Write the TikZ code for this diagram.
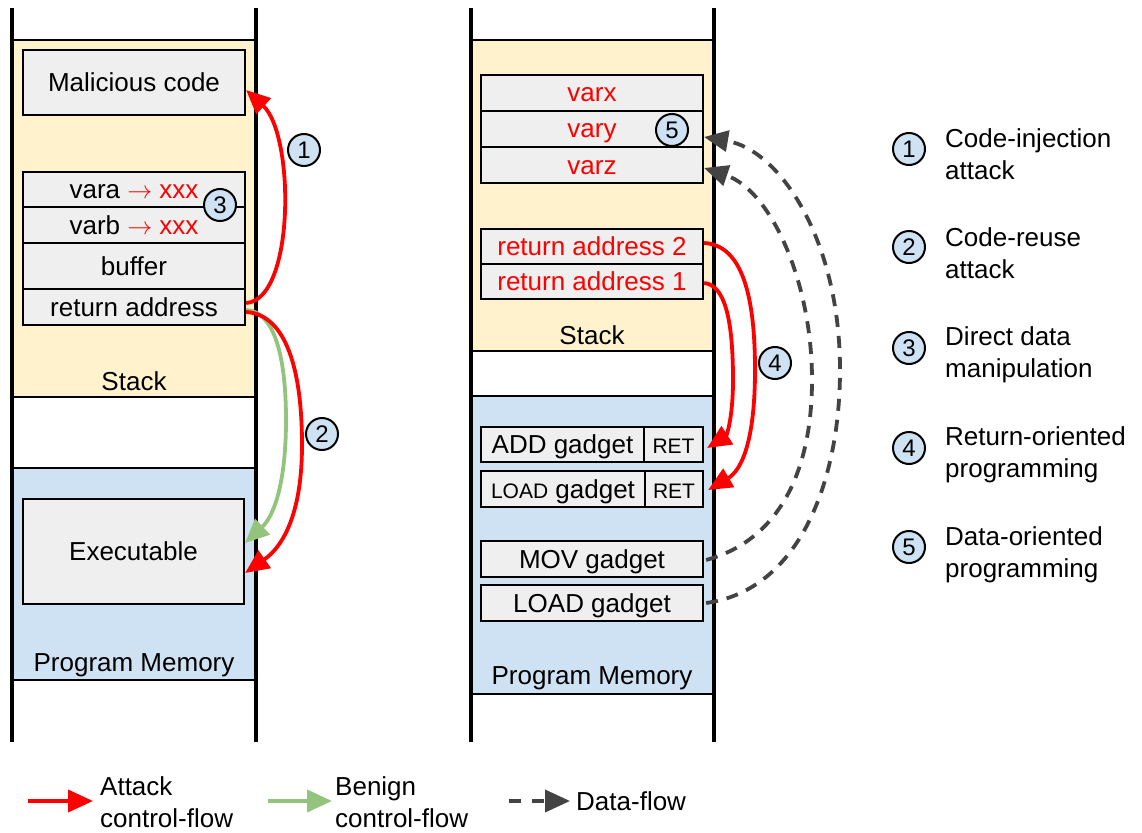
\documentclass[tikz,border=0pt]{standalone}
\usepackage{fontspec}
\setmainfont{Liberation Sans}
\usetikzlibrary{arrows.meta}
\definecolor{stackfill}{HTML}{FFF2CC}
\definecolor{memfill}{HTML}{CFE2F3}
\definecolor{boxfill}{HTML}{EFEFEF}
\definecolor{atk}{HTML}{FF0000}
\definecolor{benign}{HTML}{93C47D}
\definecolor{dflow}{HTML}{434343}
\newcommand{\ptr}{\textcolor{atk}{$\rightarrow$ xxx}}
\begin{document}
\begin{tikzpicture}[x=1pt,y=-1pt,
  font=\fontsize{26}{31}\selectfont,
  region/.style={draw=black, line width=1.8pt, inner sep=0pt},
  cell/.style={draw=black, line width=2.2pt, fill=boxfill, inner sep=0pt,
               text height=19pt, text depth=1pt},
  wall/.style={line width=4pt, line cap=rect},
  badge/.style={circle, draw=black, line width=2pt, fill=memfill, minimum size=32pt,
                inner sep=0pt, font=\fontsize{24}{24}\selectfont},
  tip/.style={-{Triangle[length=24pt,width=21pt]}},
  bigtip/.style={-{Triangle[length=25pt,width=22pt]}},
  atkarrow/.style={draw=atk, line width=3.8pt, tip},
  okarrow/.style={draw=benign, line width=3.8pt, tip},
  dataarrow/.style={draw=dflow, line width=3.8pt, dash pattern=on 12pt off 9pt, tip},
  keytext/.style={anchor=west, align=left, inner sep=0pt, font=\fontsize{26}{32}\selectfont},
  small/.style={font=\fontsize{21}{25}\selectfont}
]
\useasboundingbox (0,0) rectangle (1142,832);

% ---------- left memory column ----------
\node[region, fill=stackfill, minimum width=244pt, minimum height=357pt] (lstack) at (134,218.5) {};
\node[region, fill=memfill, minimum width=244pt, minimum height=212pt] (lmem) at (134,574) {};
\node (lstacklbl) at (134,381) {Stack};
\node (lmemlbl) at (134,665) {Program Memory};
\draw[wall] (12,10) -- (12,740);
\draw[wall] (256,10) -- (256,740);

\node[cell, minimum width=222pt, minimum height=65pt] (mal) at (134,82.5) {Malicious code};
\node[cell, minimum width=222pt, minimum height=35pt] (vara) at (134,189.5) {vara \ptr};
\node[cell, minimum width=222pt, minimum height=36pt] (varb) at (134,225) {varb \ptr};
\node[cell, minimum width=222pt, minimum height=46pt] (buf) at (134,266) {buffer};
\node[cell, minimum width=222pt, minimum height=36pt] (ret) at (134,307) {return address};
\node[cell, minimum width=221pt, minimum height=105pt] (exe) at (133.5,551.5) {Executable};

% ---------- right memory column ----------
\node[region, fill=stackfill, minimum width=243pt, minimum height=311pt] (rstack) at (592.5,195.5) {};
\node[region, fill=memfill, minimum width=243pt, minimum height=298pt] (rmem) at (592.5,545) {};
\node (rstacklbl) at (592,335) {Stack};
\node (rmemlbl) at (592,678) {Program Memory};
\draw[wall] (471,10) -- (471,740);
\draw[wall] (714,10) -- (714,740);

\node[cell, minimum width=222pt, minimum height=36pt, text=atk] (varx) at (592,93) {varx};
\node[cell, minimum width=222pt, minimum height=36pt, text=atk] (vary) at (592,129) {vary};
\node[cell, minimum width=222pt, minimum height=36pt, text=atk] (varz) at (592,165) {varz};
\node[cell, minimum width=222pt, minimum height=35pt, text=atk] (ra2) at (592,246.5) {return address 2};
\node[cell, minimum width=222pt, minimum height=35pt, text=atk] (ra1) at (592,281.5) {return address 1};

\node[cell, minimum width=163pt, minimum height=35pt] (addg) at (562.5,444.5) {ADD gadget};
\node[cell, minimum width=59pt, minimum height=35pt, small] (addret) at (673.5,444.5) {RET};
\node[cell, minimum width=164pt, minimum height=36pt] (loadg) at (563,489) {{\fontsize{21}{25}\selectfont LOAD} gadget};
\node[cell, minimum width=58pt, minimum height=36pt, small] (loadret) at (674,489) {RET};
\node[cell, minimum width=222pt, minimum height=36pt] (movg) at (592,559) {MOV gadget};
\node[cell, minimum width=222pt, minimum height=36pt] (load2) at (592,603) {LOAD gadget};

% ---------- control-flow and data-flow edges ----------
\draw[atkarrow] ([yshift=4pt]ret.east) .. controls (295,300) and (295,135) .. ([yshift=-7.5pt]mal.east);
\draw[okarrow] ([yshift=-3pt]ret.east) .. controls (272,311) and (286,350) .. (286,420)
  .. controls (286,480) and (275,515) .. ([yshift=8.5pt]exe.east);
\draw[atkarrow] ([yshift=-5pt]ret.east) .. controls (282,314) and (302,360) .. (302,445)
  .. controls (302,510) and (285,545) .. ([yshift=-21.5pt]exe.east);

\draw[atkarrow] ([yshift=3.5pt]ra2.east) .. controls (740,245) and (755,290) .. (755,370)
  .. controls (755,440) and (742,470) .. ([xshift=4pt,yshift=-1pt]loadret.east);
\draw[atkarrow] ([yshift=-1.5pt]ra1.east) .. controls (725,285) and (733,320) .. (733,380)
  .. controls (733,420) and (726,436) .. ([xshift=3pt,yshift=-3.5pt]addret.east);

\draw[dataarrow] ([xshift=2pt]load2.east) .. controls (800,590) and (840,480) .. (840,370)
  .. controls (840,240) and (780,150) .. ([yshift=-8pt]vary.east);
\draw[dataarrow] ([xshift=2pt,yshift=-1pt]movg.east) .. controls (780,540) and (812,470) .. (812,380)
  .. controls (812,280) and (770,190) .. ([yshift=-3pt]varz.east);

% ---------- numbered markers ----------
\node[badge] (m1) at (304,150) {1};
\node[badge] (m2) at (322,434) {2};
\node[badge] (m3) at (220,205) {3};
\node[badge] (m4) at (775,363) {4};
\node[badge] (m5) at (672,130) {5};

% ---------- key of attack classes ----------
\node[badge] (k1) at (909,149) {1};
\node[keytext] (k1t) at (945,154.5) {Code-injection\\attack};
\node[badge] (k2) at (909,247) {2};
\node[keytext] (k2t) at (945,253.5) {Code-reuse\\attack};
\node[badge] (k3) at (909,348) {3};
\node[keytext] (k3t) at (945,354.5) {Direct data\\manipulation};
\node[badge] (k4) at (909,448) {4};
\node[keytext] (k4t) at (945,454.5) {Return-oriented\\programming};
\node[badge] (k5) at (909,547) {5};
\node[keytext] (k5t) at (945,554.5) {Data-oriented\\programming};

% ---------- key of edge kinds ----------
\coordinate (ka0) at (28,801);
\coordinate (ka1) at (93,801);
\coordinate (kb0) at (268,801);
\coordinate (kb1) at (332,801);
\coordinate (kc0) at (509,801);
\coordinate (kc1) at (570,801);
\draw[atkarrow, bigtip] (ka0) -- (ka1);
\node[keytext] (kat) at (100,802) {Attack\\control-flow};
\draw[okarrow, bigtip] (kb0) -- (kb1);
\node[keytext] (kbt) at (335,802) {Benign\\control-flow};
\draw[dataarrow, dash pattern=on 12pt off 11pt, bigtip] (kc0) -- (kc1);
\node[keytext] (kct) at (576,801) {Data-flow};
\end{tikzpicture}
\end{document}
